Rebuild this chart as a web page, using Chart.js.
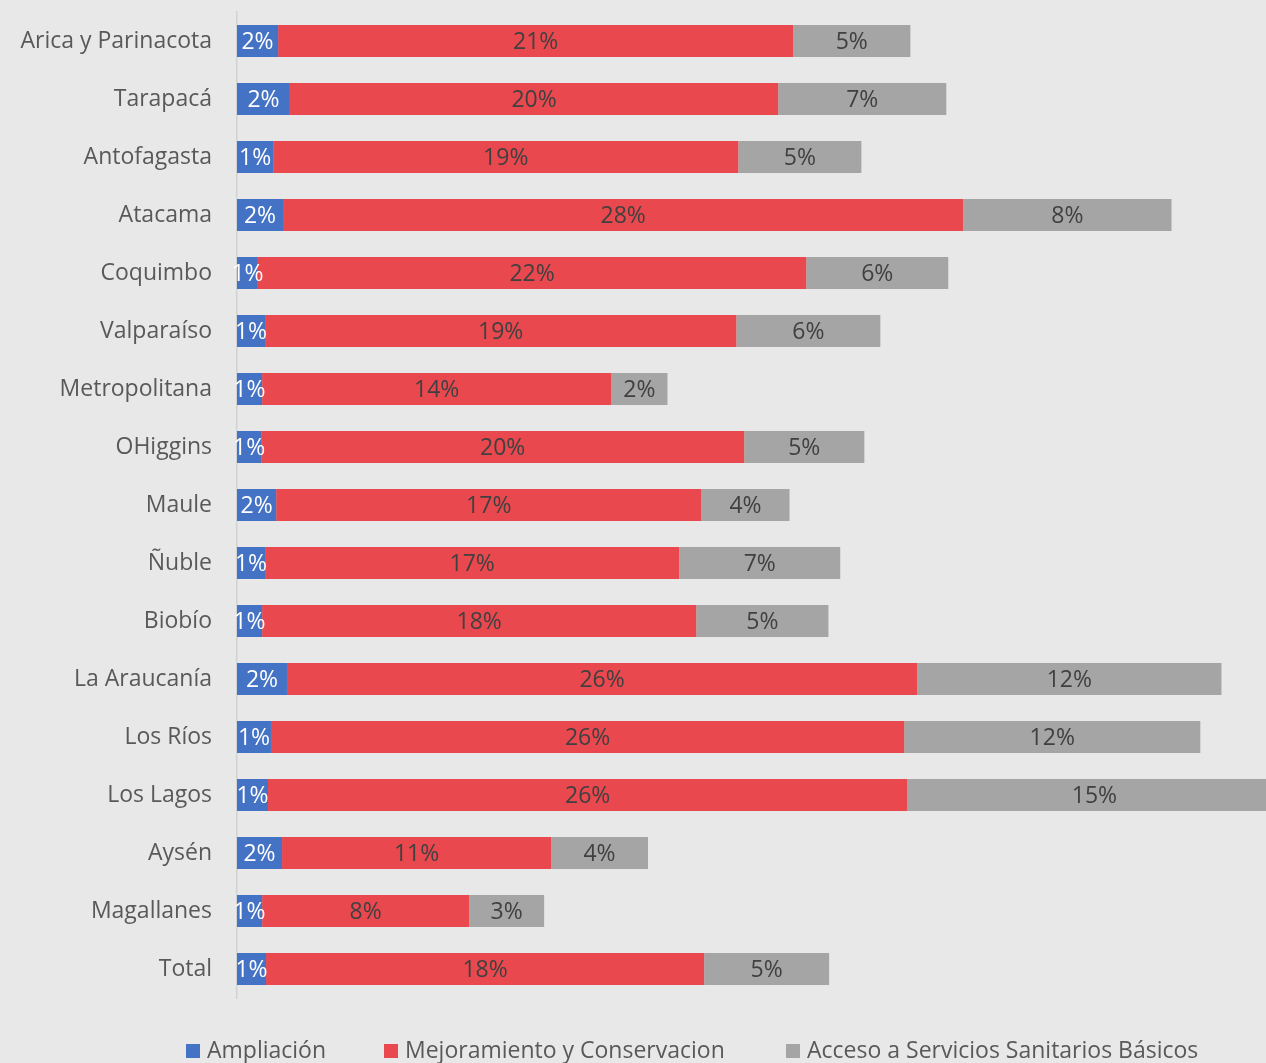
<!DOCTYPE html>
<html>
<head>
<meta charset="utf-8">
<script src="https://cdn.jsdelivr.net/npm/chart.js@4"></script>
<style>
  html, body { margin: 0; padding: 0; background: #e8e8e8; overflow: hidden; }
  canvas { display: block; }
</style>
</head>
<body>
<canvas id="regionsChart" width="1266" height="1063"></canvas>
<script>
const regions = ['Arica y Parinacota', 'Tarapacá', 'Antofagasta', 'Atacama', 'Coquimbo', 'Valparaíso',
  'Metropolitana', 'OHiggins', 'Maule', 'Ñuble', 'Biobío', 'La Araucanía', 'Los Ríos', 'Los Lagos',
  'Aysén', 'Magallanes', 'Total']

const seriesNames = ['Ampliación', 'Mejoramiento y Conservacion', 'Acceso a Servicios Sanitarios Básicos']

// shares in percent
const ampliacion = [1.67, 2.15, 1.47, 1.87, 0.85, 1.14, 1.02, 0.98, 1.59, 1.14, 1.02, 2.03, 1.38, 1.26, 1.83, 1.02, 1.18]
const mejoramiento = [20.93, 19.84, 18.9, 27.64, 22.28, 19.15, 14.19, 19.63, 17.28, 16.83, 17.64, 25.61, 25.73, 25.98, 10.93, 8.41, 17.8]
const acceso = [4.76, 6.83, 5.0, 8.46, 5.77, 5.85, 2.28, 4.88, 3.58, 6.54, 5.37, 12.36, 12.03, 15.2, 3.94, 3.05, 5.08]

const colors = ['#4472c4', '#e8484e', '#a5a5a5']
const fontFamily = '"Open Sans", sans-serif'

const segmentLabels = {
  id: 'segmentLabels',
  afterDatasetsDraw(chart) {
    const ctx = chart.ctx
    ctx.save()
    ctx.font = '23px ' + fontFamily
    ctx.textAlign = 'center'
    ctx.textBaseline = 'middle'
    chart.data.datasets.forEach((ds, i) => {
      const meta = chart.getDatasetMeta(i)
      ctx.fillStyle = i === 0 ? '#ffffff' : '#404040'
      meta.data.forEach((bar, j) => {
        const cx = (bar.x + bar.base) / 2
        ctx.fillText(Math.round(ds.data[j]) + '%', cx, bar.y + 1)
      })
    })
    ctx.restore()
  }
}

const bottomLegend = {
  id: 'bottomLegend',
  afterDraw(chart) {
    const ctx = chart.ctx
    const boxX = [186, 384, 786]
    ctx.save()
    ctx.font = '23px ' + fontFamily
    ctx.textBaseline = 'alphabetic'
    ctx.textAlign = 'left'
    seriesNames.forEach((name, i) => {
      ctx.fillStyle = colors[i]
      ctx.fillRect(boxX[i], 1044, 14, 14)
      ctx.fillStyle = '#595959'
      ctx.fillText(name, boxX[i] + 21, 1058)
    })
    ctx.restore()
  }
}

const ctx = document.getElementById('regionsChart').getContext('2d')

new Chart(ctx, {
  type: 'bar',
  data: {
    labels: regions,
    datasets: [ampliacion, mejoramiento, acceso].map((values, i) => ({
      label: seriesNames[i],
      data: values,
      backgroundColor: colors[i],
      borderWidth: 0,
      barPercentage: 0.552,
      categoryPercentage: 1
    }))
  },
  options: {
    indexAxis: 'y',
    responsive: false,
    animation: false,
    layout: { padding: { top: 12, bottom: 65, left: 0, right: 0 } },
    plugins: {
      legend: { display: false },
      tooltip: { enabled: false }
    },
    scales: {
      x: {
        stacked: true,
        display: false,
        min: 0,
        max: 41.81
      },
      y: {
        stacked: true,
        grid: { display: false, drawTicks: false },
        border: { display: true, color: '#d2d2d2', width: 1.5 },
        ticks: {
          padding: 25,
          color: '#595959',
          font: { family: fontFamily, size: 23 }
        },
        afterFit(scale) {
          scale.width = 237
          scale.paddingTop = 0
          scale.paddingBottom = 0
        }
      }
    }
  },
  plugins: [segmentLabels, bottomLegend]
})
</script>
</body>
</html>
